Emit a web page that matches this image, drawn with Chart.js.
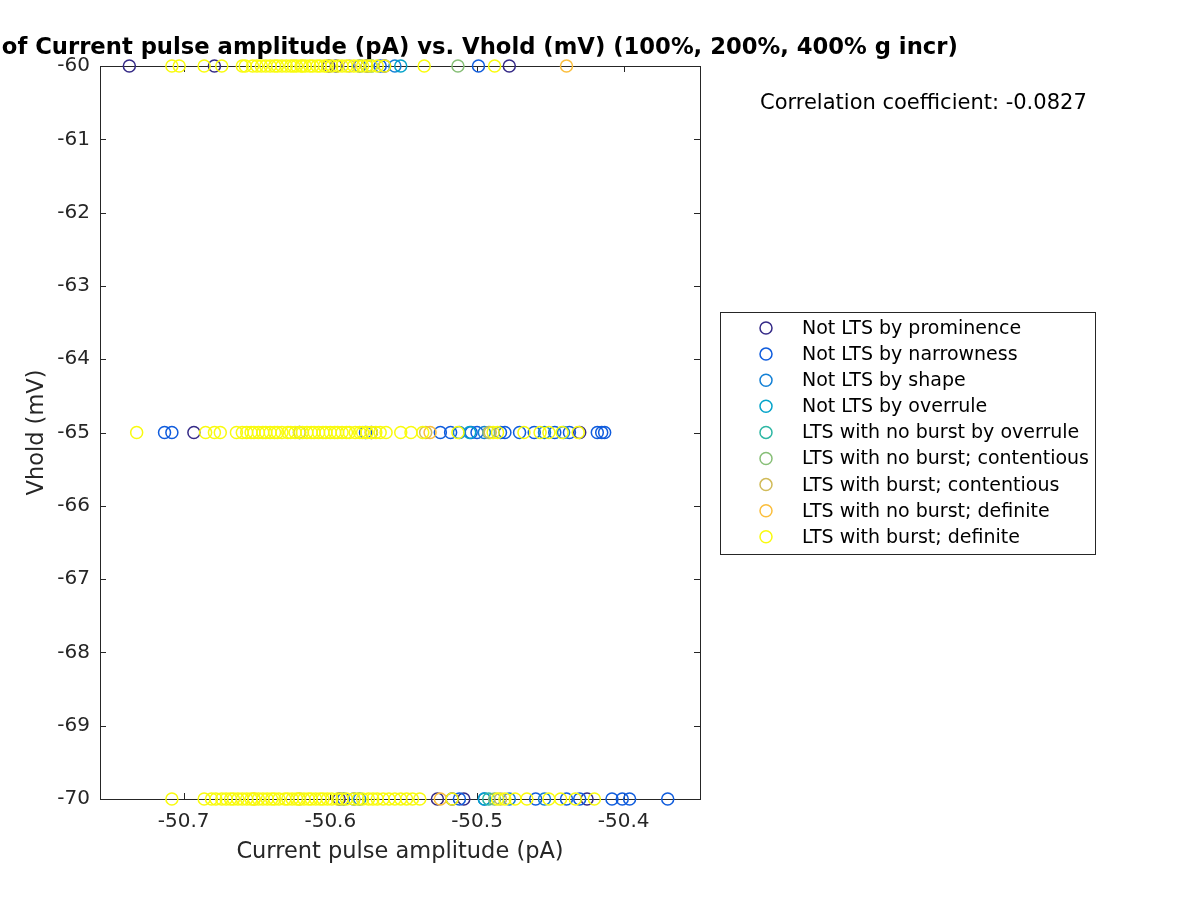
<!DOCTYPE html>
<html>
<head>
<meta charset="utf-8">
<script src="https://cdn.jsdelivr.net/npm/chart.js@4.4.1/dist/chart.umd.min.js"></script>
<style>
  html, body { margin: 0; padding: 0; background: #fff; }
  #wrap { width: 1200px; height: 900px; }
</style>
</head>
<body>
<div id="wrap"><canvas id="chart" width="1200" height="900"></canvas></div>
<script>
// group names and colours (parula)
const groupNames = [
  'Not LTS by prominence',
  'Not LTS by narrowness',
  'Not LTS by shape',
  'Not LTS by overrule',
  'LTS with no burst by overrule',
  'LTS with no burst; contentious',
  'LTS with burst; contentious',
  'LTS with no burst; definite',
  'LTS with burst; definite'
];
const groupColors = ['#352a87', '#0f5cdd', '#1481d6', '#06a4ca', '#2eb7a4', '#87bf77', '#d1bb59', '#fbbe3c', '#f9fb0e'];

const vholdLevels = [-60, -65, -70];

// current pulse amplitude (pA) for each group, at Vhold -60 / -65 / -70 mV
const promAt60 = [-50.737, -50.679, -50.601, -50.596, -50.575, -50.563, -50.478];
const promAt65 = [-50.693, -50.621, -50.572, -50.430];
const promAt70 = [-50.594, -50.527, -50.517, -50.509, -50.425];

const narrowAt60 = [-50.580, -50.566, -50.499];
const narrowAt65 = [-50.713, -50.708, -50.576, -50.525, -50.518, -50.504, -50.500, -50.484, -50.481, -50.471, -50.461, -50.447, -50.437, -50.418, -50.415, -50.413];
const narrowAt70 = [-50.591, -50.584, -50.512, -50.495, -50.460, -50.439, -50.430, -50.408, -50.401, -50.396, -50.370];

const shapeAt60 = [-50.572, -50.556];
const shapeAt65 = [-50.512, -50.495, -50.454, -50.441];
const shapeAt70 = [-50.580, -50.478, -50.454];

const overrAt60 = [-50.552];
const overrAt65 = [-50.505];
const overrAt70 = [-50.495];

const ltsOverrAt60 = [];
const ltsOverrAt65 = [];
const ltsOverrAt70 = [-50.492];

const noBurstContAt60 = [-50.513];
const noBurstContAt65 = [-50.492];
const noBurstContAt70 = [-50.488];

const burstContAt60 = [-50.587];
const burstContAt65 = [-50.535, -50.491];
const burstContAt70 = [-50.621, -50.484];

const noBurstDefAt60 = [-50.439];
const noBurstDefAt65 = [-50.532];
const noBurstDefAt70 = [-50.652, -50.525];

const burstDefAt60 = [-50.708, -50.703, -50.686, -50.674, -50.660, -50.658, -50.653, -50.650, -50.647, -50.644, -50.641, -50.638,
  -50.636, -50.633, -50.630, -50.627, -50.625, -50.623, -50.620, -50.619, -50.617, -50.614, -50.612, -50.609, -50.607, -50.604,
  -50.602, -50.599, -50.595, -50.592, -50.589, -50.584, -50.581, -50.578, -50.575, -50.572, -50.568, -50.563, -50.536, -50.488];
const burstDefAt65 = [-50.732, -50.685, -50.679, -50.675, -50.664, -50.660, -50.657, -50.654, -50.652, -50.649, -50.646, -50.644,
  -50.641, -50.638, -50.636, -50.633, -50.629, -50.627, -50.624, -50.621, -50.619, -50.616, -50.613, -50.611, -50.608, -50.605,
  -50.603, -50.600, -50.597, -50.595, -50.592, -50.589, -50.587, -50.583, -50.580, -50.578, -50.575, -50.572, -50.569, -50.566,
  -50.562, -50.552, -50.545, -50.537, -50.513, -50.489, -50.486, -50.468, -50.457, -50.451, -50.442, -50.431];
const burstDefAt70 = [-50.708, -50.686, -50.681, -50.678, -50.674, -50.671, -50.668, -50.666, -50.663, -50.660, -50.657, -50.654,
  -50.652, -50.649, -50.646, -50.643, -50.640, -50.638, -50.635, -50.631, -50.629, -50.626, -50.623, -50.621, -50.618, -50.615,
  -50.613, -50.610, -50.607, -50.605, -50.602, -50.599, -50.595, -50.592, -50.589, -50.584, -50.581, -50.578, -50.574, -50.571,
  -50.568, -50.564, -50.560, -50.556, -50.552, -50.548, -50.544, -50.539, -50.517, -50.486, -50.481, -50.474, -50.466, -50.451,
  -50.443, -50.433, -50.420];

const groupData = [
  [promAt60, promAt65, promAt70],
  [narrowAt60, narrowAt65, narrowAt70],
  [shapeAt60, shapeAt65, shapeAt70],
  [overrAt60, overrAt65, overrAt70],
  [ltsOverrAt60, ltsOverrAt65, ltsOverrAt70],
  [noBurstContAt60, noBurstContAt65, noBurstContAt70],
  [burstContAt60, burstContAt65, burstContAt70],
  [noBurstDefAt60, noBurstDefAt65, noBurstDefAt70],
  [burstDefAt60, burstDefAt65, burstDefAt70]
];

const xTicks = [-50.7, -50.6, -50.5, -50.4];
const yTicks = [-70, -69, -68, -67, -66, -65, -64, -63, -62, -61, -60];

const titleText = 'Scatter plot of Current pulse amplitude (pA) vs. Vhold (mV) (100%, 200%, 400% g incr)';
const corrText = 'Correlation coefficient: -0.0827';

const datasets = groupNames.map((name, i) => ({
  label: name,
  data: groupData[i].flatMap((xs, k) => xs.map(x => ({ x: x, y: vholdLevels[k] }))),
  borderColor: groupColors[i],
  backgroundColor: 'rgba(0,0,0,0)',
  pointStyle: 'circle',
  pointRadius: 6,
  pointHoverRadius: 6,
  borderWidth: 1.5,
  clip: false,
  order: groupNames.length - 1 - i
}));

// axes box, inward ticks, titles, legend and correlation text
const decorations = {
  id: 'decorations',
  beforeDatasetsDraw(chart) {
    const ctx = chart.ctx;
    const a = chart.chartArea;
    const xs = chart.scales.x, ys = chart.scales.y;
    ctx.save();
    ctx.strokeStyle = '#262626';
    ctx.lineWidth = 1;
    ctx.strokeRect(a.left + 0.5, a.top + 0.5, a.right - a.left, a.bottom - a.top);
    ctx.beginPath();
    xTicks.forEach(v => {
      const px = Math.round(xs.getPixelForValue(v)) + 0.5;
      ctx.moveTo(px, a.bottom); ctx.lineTo(px, a.bottom - 6);
      ctx.moveTo(px, a.top); ctx.lineTo(px, a.top + 6);
    });
    yTicks.forEach(v => {
      const py = Math.round(ys.getPixelForValue(v)) + 0.5;
      ctx.moveTo(a.left, py); ctx.lineTo(a.left + 6, py);
      ctx.moveTo(a.right, py); ctx.lineTo(a.right - 6, py);
    });
    ctx.stroke();
    ctx.restore();
  },
  afterDraw(chart) {
    const ctx = chart.ctx;
    const a = chart.chartArea;
    ctx.save();
    // title
    ctx.fillStyle = '#000';
    ctx.font = 'bold 22.7px "DejaVu Sans"';
    ctx.textAlign = 'center';
    ctx.textBaseline = 'middle';
    ctx.fillText(titleText, (a.left + a.right) / 2, 48);

    // axis titles
    ctx.fillStyle = '#262626';
    ctx.font = '22.5px "DejaVu Sans"';
    ctx.fillText('Current pulse amplitude (pA)', (a.left + a.right) / 2, 852);
    ctx.save();
    ctx.translate(37, (a.top + a.bottom) / 2);
    ctx.rotate(-Math.PI / 2);
    ctx.fillText('Vhold (mV)', 0, 0);
    ctx.restore();

    // correlation
    ctx.fillStyle = '#000';
    ctx.font = '21px "DejaVu Sans"';
    ctx.textAlign = 'left';
    ctx.fillText(corrText, 760, 104);

    // legend
    ctx.strokeStyle = '#262626';
    ctx.lineWidth = 1;
    ctx.fillStyle = '#fff';
    ctx.fillRect(720.5, 312.5, 375, 242);
    ctx.strokeRect(720.5, 312.5, 375, 242);
    ctx.font = '19px "DejaVu Sans"';
    groupNames.forEach((name, i) => {
      const y = 328 + i * 26.1;
      ctx.beginPath();
      ctx.arc(766, y, 6, 0, Math.PI * 2);
      ctx.strokeStyle = groupColors[i];
      ctx.lineWidth = 1.5;
      ctx.stroke();
      ctx.fillStyle = '#000';
      ctx.fillText(name, 802, y + 1);
    });
    ctx.restore();
  }
};

new Chart(document.getElementById('chart'), {
  type: 'scatter',
  data: { datasets: datasets },
  plugins: [decorations],
  options: {
    responsive: false,
    animation: false,
    layout: { padding: { top: 66, right: 500, left: 0, bottom: 0 } },
    plugins: {
      legend: { display: false },
      tooltip: { enabled: false },
      title: { display: false }
    },
    scales: {
      x: {
        type: 'linear',
        min: -50.757,
        max: -50.348,
        grid: { display: false, drawTicks: false },
        border: { display: false },
        afterFit: s => { s.height = 101; },
        afterBuildTicks: s => { s.ticks = xTicks.map(v => ({ value: v })); },
        ticks: {
          padding: 11,
          color: '#262626',
          font: { family: 'DejaVu Sans', size: 20 },
          callback: v => v.toFixed(1)
        }
      },
      y: {
        type: 'linear',
        min: -70,
        max: -60,
        grid: { display: false, drawTicks: false },
        border: { display: false },
        afterFit: s => { s.width = 100; },
        afterBuildTicks: s => { s.ticks = yTicks.map(v => ({ value: v })); },
        ticks: {
          padding: 10,
          color: '#262626',
          font: { family: 'DejaVu Sans', size: 20 },
          callback: v => String(v)
        }
      }
    }
  }
});
</script>
</body>
</html>
